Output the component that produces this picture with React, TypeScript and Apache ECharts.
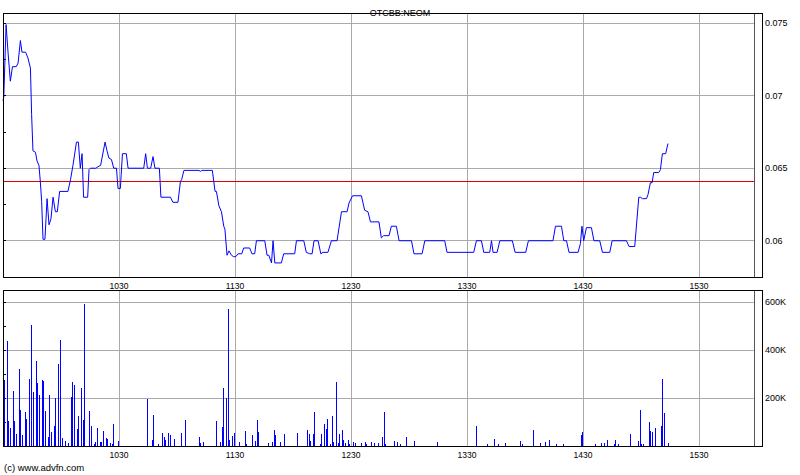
import React, { useEffect, useRef } from 'react';
import * as echarts from 'echarts';

const chartTitle = 'OTCBB:NEOM';
const footerText = '(c) www.advfn.com';
const prevClose = 0.0641;
const sessionEndMinutes = 388.5;

// [minutes after 09:30, price]
const pricePoints: [number, number][] = [
  [0, 0.06965], [0.4, 0.0699], [1.6, 0.0749], [2.6, 0.073], [3.8, 0.071], [4.9, 0.072], [6.9, 0.072],
  [7.8, 0.07225], [9.0, 0.0738], [9.8, 0.073], [11.7, 0.073], [12.9, 0.0726], [14.2, 0.0719], [14.8, 0.0687],
  [15.5, 0.0662], [16.8, 0.0661], [17.6, 0.0655], [18.6, 0.0652], [19.3, 0.0641], [20.0, 0.0627], [20.7, 0.0601],
  [21.7, 0.0601], [22.8, 0.0629], [23.8, 0.0611], [24.8, 0.0615], [25.9, 0.063], [27.1, 0.062], [28.1, 0.062],
  [29.3, 0.0634], [33.6, 0.0634], [34.9, 0.0642], [36.2, 0.0652], [38.0, 0.0668], [39.0, 0.0668], [40.0, 0.065],
  [40.9, 0.066], [41.7, 0.063], [43.8, 0.063], [44.5, 0.0649], [45.2, 0.065], [48.0, 0.065], [49.1, 0.0651],
  [50.5, 0.0652], [52.8, 0.0668], [53.8, 0.0662], [54.8, 0.0657], [56.1, 0.0656], [57.3, 0.065], [58.7, 0.065],
  [59.5, 0.0636], [60.7, 0.0636], [61.8, 0.066], [63.8, 0.066], [64.7, 0.065], [72.8, 0.065], [73.8, 0.066],
  [74.7, 0.065], [76.4, 0.065], [77.6, 0.0658], [78.6, 0.065], [80.9, 0.065], [81.7, 0.063], [86.6, 0.063],
  [87.9, 0.06265], [90.5, 0.06265], [91.8, 0.0641], [92.4, 0.0642], [93.6, 0.06485], [101.4, 0.06485],
  [102.1, 0.06478], [102.8, 0.06485], [108.3, 0.06485], [109.7, 0.0634], [110.4, 0.0634], [111.7, 0.0624],
  [113.0, 0.062], [114.2, 0.061], [114.8, 0.0608], [115.9, 0.059], [116.9, 0.0593], [118.2, 0.059],
  [119.3, 0.0589], [120.4, 0.0589], [121.6, 0.0591], [123.5, 0.0591], [124.5, 0.0595], [127.6, 0.0595],
  [128.8, 0.0591], [130.2, 0.0591], [131.1, 0.06], [135.4, 0.06], [136.6, 0.059], [137.5, 0.059],
  [138.9, 0.05847], [139.7, 0.06], [140.6, 0.05847], [144.0, 0.05847], [145.2, 0.0591], [150.9, 0.0591],
  [151.8, 0.06], [155.6, 0.06], [156.9, 0.0592], [158.7, 0.0591], [159.9, 0.0591], [160.9, 0.06], [163.0, 0.06],
  [164.4, 0.0591], [165.5, 0.0592], [168.1, 0.0592], [169.9, 0.06], [172.8, 0.06], [175.1, 0.062], [178.0, 0.062],
  [179.0, 0.0626], [180.8, 0.0631], [185.4, 0.0631], [187.1, 0.0621], [188.8, 0.062], [190.1, 0.0613],
  [194.5, 0.0613], [195.7, 0.0602], [196.9, 0.06035], [199.7, 0.06035], [200.9, 0.061], [203.5, 0.061],
  [204.9, 0.06], [211.3, 0.06], [212.6, 0.0591], [216.8, 0.0591], [218.2, 0.06], [228.5, 0.06], [229.7, 0.0592],
  [243.5, 0.0592], [244.9, 0.06], [247.5, 0.06], [248.7, 0.0592], [251.8, 0.0592], [252.7, 0.06], [253.5, 0.0592],
  [255.6, 0.0592], [257.0, 0.06], [263.5, 0.06], [264.9, 0.0592], [270.4, 0.0592], [271.8, 0.06], [284.5, 0.06],
  [285.8, 0.061], [288.9, 0.061], [290.1, 0.06], [291.5, 0.06], [292.8, 0.0592], [297.5, 0.0592], [298.7, 0.0598],
  [299.5, 0.061], [300.4, 0.06], [301.8, 0.0609], [304.4, 0.0609], [305.7, 0.06], [308.7, 0.06], [310.1, 0.0592],
  [313.9, 0.0592], [315.1, 0.06], [322.5, 0.06], [323.9, 0.0596], [326.8, 0.0596], [328.9, 0.063], [329.7, 0.063],
  [330.8, 0.0629], [332.9, 0.0629], [333.7, 0.0632], [334.9, 0.064], [335.8, 0.064], [336.6, 0.0647],
  [339.2, 0.0647], [340.1, 0.0649], [341.1, 0.066], [342.8, 0.066], [344.0, 0.0667],
];

// [minutes after 09:30, volume in thousands]
const volumeBars: [number, number][] = [
  [0, 286], [1.0, 275], [2.1, 439], [3.1, 103], [4.1, 75], [5.2, 231], [6.2, 106], [7.2, 51], [8.3, 322],
  [9.3, 151], [10.3, 47], [11.4, 143], [12.4, 114], [13.5, 281], [14.5, 143], [15.0, 506], [16.0, 226],
  [17.1, 356], [18.1, 264], [19.1, 214], [20.2, 276], [21.2, 269], [22.2, 147], [23.3, 39], [24.3, 214],
  [25.3, 60], [26.4, 85], [27.4, 201], [28.5, 343], [29.5, 443], [31.0, 35], [32.1, 22], [34.1, 14],
  [35.2, 206], [36.2, 268], [37.2, 256], [38.3, 72], [39.3, 126], [40.4, 243], [41.4, 110], [42.4, 593],
  [45.0, 147], [46.0, 85], [47.1, 10], [48.1, 18], [49.1, 76], [50.2, 15], [51.2, 18], [52.2, 64], [53.3, 35],
  [54.3, 29], [55.4, 14], [56.4, 10], [57.4, 93], [60.0, 22],
  [74.5, 78], [75.0, 197], [77.1, 24], [78.1, 128], [80.2, 10], [82.3, 53], [83.3, 36], [84.3, 26], [85.4, 53],
  [86.4, 47], [88.5, 28], [92.1, 53], [94.2, 107], [101.4, 36], [102.4, 11], [103.5, 15], [110.2, 103],
  [112.3, 15], [113.3, 78], [114.3, 240], [115.4, 201], [116.4, 569], [117.4, 24], [118.5, 40], [119.5, 53],
  [120.0, 15], [122.1, 15], [125.2, 61], [126.2, 8], [129.3, 44], [130.4, 19], [131.4, 107], [132.4, 57],
  [137.1, 12], [139.2, 18], [140.2, 68], [141.2, 47], [143.3, 18], [145.4, 51], [152.1, 56], [157.3, 68],
  [158.3, 51], [159.3, 22], [160.4, 51], [161.4, 143], [164.5, 8], [165.0, 51], [166.1, 93], [167.1, 72],
  [168.1, 114], [169.2, 8], [170.2, 126], [171.2, 18], [172.3, 268], [173.3, 12], [174.3, 51], [175.4, 68],
  [176.4, 26], [177.4, 12], [178.5, 26], [179.5, 8], [181.1, 18], [182.1, 14], [185.2, 14], [187.3, 18],
  [188.3, 8], [190.4, 18], [192.4, 14], [194.5, 11], [196.1, 39], [197.1, 143], [198.1, 8], [202.3, 22],
  [204.3, 18], [205.4, 8], [208.5, 39], [213.1, 22], [225.0, 18], [245.2, 85], [250.4, 8], [254.5, 31],
  [256.1, 8], [260.2, 14], [267.5, 22], [268.5, 8],
  [274.2, 68], [278.3, 14], [280.4, 18], [282.5, 26], [286.1, 8], [290.2, 8], [299.5, 47], [300.0, 60],
  [306.3, 8], [309.4, 14], [311.4, 14], [312.5, 26], [316.1, 8], [317.1, 26], [318.2, 8], [324.4, 51],
  [328.5, 22], [329.6, 151], [330.1, 10], [331.1, 8], [334.2, 101], [335.2, 64], [336.2, 60], [337.3, 76],
  [340.4, 85], [341.4, 281], [342.4, 139], [344.5, 14],
];

const timeLabelMinutes = [60, 120, 180, 240, 300, 360];
const priceTickLabels = [0.06, 0.065, 0.07, 0.075];
const volumeTickLabels = [200000, 400000, 600000];

const FONT = "'Liberation Sans', Arial, sans-serif";

function fmtTime(v: number): string {
  if (!timeLabelMinutes.some((m) => Math.abs(m - v) < 1e-6)) return '';
  const total = 570 + Math.round(v);
  const hh = Math.floor(total / 60);
  const mm = total % 60;
  return `${hh}${mm < 10 ? '0' + mm : mm}`;
}
function fmtPrice(v: number): string {
  if (!priceTickLabels.some((p) => Math.abs(p - v) < 1e-7)) return '';
  return String(Number(v.toFixed(4)));
}
function fmtVol(v: number): string {
  if (!volumeTickLabels.some((p) => Math.abs(p - v) < 1)) return '';
  return Math.round(v / 1000) + 'K';
}

const css = `
#advchart svg path { shape-rendering: crispEdges; }
#advchart svg path[stroke="#0000ff"], #advchart svg path[stroke="#00f"], #advchart svg path[stroke="rgb(0,0,255)"] { shape-rendering: auto; }
`;

export default function App() {
  const ref = useRef<HTMLDivElement>(null);
  useEffect(() => {
    if (!ref.current) return;
    const chart = echarts.init(ref.current, undefined, { renderer: 'svg' });
    const xAxisBase = (gridIndex: number) => ({
      type: 'value',
      gridIndex,
      min: 0,
      max: sessionEndMinutes,
      interval: 60,
      axisLine: { show: true, lineStyle: { color: '#000', width: 1 } },
      axisTick: { show: false },
      axisLabel: { margin: 4, fontSize: 8.5, color: '#000', fontFamily: FONT, formatter: fmtTime },
      splitLine: {
        show: true,
        lineStyle: { color: ['transparent', '#aaaaaa', '#aaaaaa', '#aaaaaa', '#aaaaaa', '#aaaaaa', '#aaaaaa', '#555555'], width: 1 },
      },
    });
    const option = {
      animation: false,
      backgroundColor: '#ffffff',
      title: {
        text: chartTitle,
        left: 'center',
        top: 3,
        textStyle: { fontSize: 9, fontWeight: 'normal', color: '#000', fontFamily: FONT },
      },
      grid: [
        { left: 3, top: 13, width: 751, height: 264 },
        { left: 3, top: 290, width: 751, height: 156 },
      ],
      xAxis: [xAxisBase(0), xAxisBase(1)],
      yAxis: [
        {
          type: 'value', gridIndex: 0, position: 'right', offset: 8,
          min: 0.0575, max: 0.0757, interval: 0.0025,
          axisLine: { show: true, lineStyle: { color: '#000' } },
          axisTick: { show: true, length: 3, lineStyle: { color: '#000' } },
          axisLabel: { margin: 3, fontSize: 9, color: '#000', fontFamily: FONT, formatter: fmtPrice },
          splitLine: { show: true, lineStyle: { color: ['transparent', '#aaaaaa'], width: 1 } },
        },
        {
          type: 'value', gridIndex: 0, position: 'left',
          min: 0.0575, max: 0.0757, interval: 0.0025,
          axisLine: { show: true, lineStyle: { color: '#000' } },
          axisTick: { show: true, inside: true, length: 3, lineStyle: { color: '#000' } },
          axisLabel: { show: false },
          splitLine: { show: false },
        },
        {
          type: 'value', gridIndex: 1, position: 'right', offset: 8,
          min: 0, max: 650000, interval: 100000,
          axisLine: { show: true, lineStyle: { color: '#000' } },
          axisTick: { show: true, length: 3, lineStyle: { color: '#000' } },
          axisLabel: { margin: 3, fontSize: 9, color: '#000', fontFamily: FONT, formatter: fmtVol },
          splitLine: { show: true, lineStyle: { color: ['#aaaaaa', 'transparent'], width: 1 } },
        },
        {
          type: 'value', gridIndex: 1, position: 'left',
          min: 0, max: 650000, interval: 100000,
          axisLine: { show: true, lineStyle: { color: '#000' } },
          axisTick: { show: true, inside: true, length: 3, lineStyle: { color: '#000' } },
          axisLabel: { show: false },
          splitLine: { show: false },
        },
      ],
      graphic: [
        { type: 'rect', shape: { x: 3, y: 13, width: 759, height: 264 }, style: { fill: 'none', stroke: '#000', lineWidth: 1 }, z: 100, silent: true },
        { type: 'rect', shape: { x: 3, y: 290, width: 759, height: 156 }, style: { fill: 'none', stroke: '#000', lineWidth: 1 }, z: 100, silent: true },
        { type: 'text', left: 4, top: 462, style: { text: footerText, fontSize: 9.5, fill: '#000', fontFamily: FONT }, silent: true },
      ],
      series: [
        {
          type: 'line',
          xAxisIndex: 0,
          yAxisIndex: 0,
          data: [[0, prevClose], [sessionEndMinutes, prevClose]],
          showSymbol: false,
          symbol: 'none',
          silent: true,
          lineStyle: { color: '#e00000', width: 1 },
          z: 3,
        },
        {
          type: 'line',
          xAxisIndex: 0,
          yAxisIndex: 0,
          data: pricePoints,
          showSymbol: false,
          symbol: 'none',
          lineStyle: { color: '#0000ff', width: 1 },
          z: 5,
        },
        {
          type: 'bar',
          xAxisIndex: 1,
          yAxisIndex: 2,
          data: volumeBars.map(([t, v]) => [t, v * 1000]),
          barWidth: 1,
          itemStyle: { color: '#0000ff' },
        },
      ],
    };
    chart.setOption(option as any);
    return () => chart.dispose();
  }, []);
  return (
    <>
      <style>{css}</style>
      <div
        id="advchart"
        ref={ref}
        style={{ position: 'absolute', left: 0, top: 0, width: 800, height: 475, background: '#fff' }}
      />
    </>
  );
}
